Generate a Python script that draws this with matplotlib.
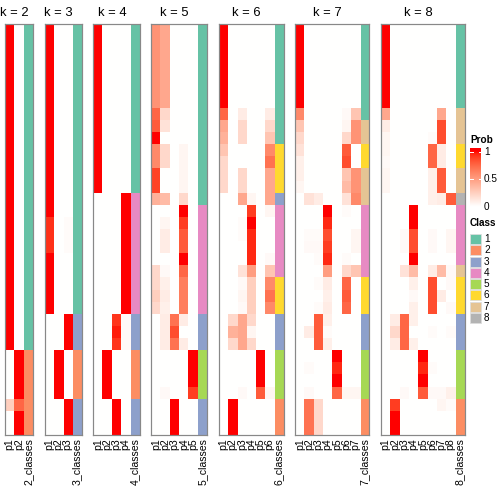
import matplotlib.pyplot as plt
import numpy as np
from matplotlib.colors import ListedColormap, to_rgba
from matplotlib.patches import Rectangle

plt.rcParams['font.family'] = ['Liberation Sans', 'DejaVu Sans']

# class colours for classes 1..8
class_colors = ['#66C2A5', '#FC8D62', '#8DA0CB', '#E78AC3',
                '#A6D854', '#FFD92F', '#E5C494', '#B3B3B3']

# membership probabilities (rows = samples, cols = p1..pk) and class labels
prob_k2 = [[1, 0]] * 27 + [[0, 1]] * 4 + [[0.25, 0.75]] + [[0, 1]] * 2
class_k2 = [1] * 27 + [2] * 7

prob_k3 = ([[1, 0, 0]] * 16 + [[0.93, 0, 0.02]] * 3 + [[1, 0, 0]] * 5
           + [[0, 0, 1]] * 3 + [[0, 1, 0]] * 4 + [[0, 0, 1]] * 3)
class_k3 = [1] * 24 + [3] * 3 + [2] * 4 + [3] * 3

prob_k4 = ([[1, 0, 0, 0]] * 14 + [[0, 0, 0, 1]] * 10
           + [[0, 0, 0.92, 0.03], [0, 0, 0.97, 0.03], [0, 0, 0.92, 0.03]]
           + [[0, 1, 0, 0]] * 4 + [[0, 0, 1, 0]] * 3)
class_k4 = [1] * 14 + [4] * 10 + [3] * 3 + [2] * 4 + [3] * 3

prob_k5 = ([[0.55, 0.45, 0, 0, 0]] * 7 + [
    [0.75, 0.2, 0, 0, 0],
    [0.8, 0.15, 0, 0, 0],
    [1, 0, 0, 0, 0],
    [0.6, 0.2, 0, 0.05, 0],
    [0.6, 0.2, 0, 0.05, 0],
    [0.88, 0, 0, 0.05, 0],
    [0.88, 0, 0, 0.05, 0],
    [0.4, 0.35, 0, 0.2, 0],
    [0, 0, 0, 1, 0],
    [0, 0.05, 0, 0.9, 0],
    [0, 0.1, 0, 0.8, 0],
    [0, 0.1, 0, 0.8, 0],
    [0, 0, 0, 1, 0],
    [0.2, 0.03, 0, 0.75, 0],
    [0.2, 0.08, 0, 0.65, 0],
    [0.25, 0.1, 0, 0.65, 0],
    [0.2, 0.08, 0, 0.65, 0],
    [0, 0.1, 0.7, 0.1, 0],
    [0, 0.1, 0.85, 0, 0],
    [0, 0.1, 0.7, 0.1, 0],
    [0, 0, 0, 0, 1],
    [0, 0, 0, 0, 1],
    [0, 0, 0, 0, 1],
    [0, 0.03, 0, 0, 0.9]] + [[0, 0, 1, 0, 0]] * 3)
class_k5 = [1] * 15 + [4] * 9 + [3] * 3 + [5] * 4 + [3] * 3

prob_k6 = ([[1, 0, 0, 0, 0, 0]] * 7 + [
    [0.75, 0, 0.1, 0, 0, 0.1],
    [0.45, 0, 0.2, 0, 0, 0.2],
    [0.4, 0, 0.2, 0, 0, 0.3],
    [0.3, 0, 0, 0, 0, 0.6],
    [0.2, 0, 0, 0, 0, 0.7],
    [0.2, 0, 0.2, 0, 0, 0.45],
    [0.2, 0, 0.2, 0, 0, 0.45],
    [0, 0, 0.45, 0.05, 0, 0.45],
    [0, 0, 0, 0.9, 0, 0.05],
    [0, 0, 0.02, 1, 0, 0],
    [0, 0, 0.02, 0.95, 0, 0],
    [0, 0, 0, 0.95, 0, 0],
    [0, 0, 0, 0.95, 0, 0.03],
    [0, 0, 0.15, 0.5, 0, 0.3],
    [0, 0, 0.03, 0.25, 0, 0.6],
    [0, 0, 0.05, 0.25, 0, 0.7],
    [0, 0, 0.03, 0.25, 0, 0.6],
    [0, 0.2, 0.45, 0.2, 0, 0],
    [0, 0.4, 0.45, 0.05, 0, 0],
    [0, 0.2, 0.45, 0.2, 0, 0],
    [0, 0, 0, 0, 1, 0],
    [0, 0, 0, 0, 1, 0],
    [0, 0, 0, 0, 1, 0],
    [0, 0, 0.03, 0, 0.8, 0.05]] + [[0, 1, 0, 0, 0, 0]] * 3)
class_k6 = [1] * 10 + [6] * 4 + [3] + [4] * 6 + [6] * 3 + [3] * 3 + [5] * 4 + [2] * 3

prob_k7 = ([[1, 0, 0, 0, 0, 0, 0]] * 7 + [
    [0.6, 0, 0, 0, 0, 0.03, 0.3],
    [0.3, 0, 0, 0, 0, 0.05, 0.55],
    [0.2, 0, 0, 0, 0, 0.2, 0.55],
    [0.15, 0, 0, 0, 0, 0.8, 0],
    [0.08, 0, 0, 0, 0, 0.85, 0],
    [0.08, 0, 0, 0, 0, 0.3, 0.55],
    [0.05, 0, 0, 0, 0, 0.35, 0.55],
    [0, 0.15, 0.1, 0, 0, 0.15, 0.6],
    [0, 0, 0, 1, 0, 0.02, 0],
    [0, 0, 0, 0.95, 0, 0, 0],
    [0, 0.02, 0.02, 0.85, 0, 0, 0.05],
    [0, 0.03, 0.03, 0.9, 0, 0, 0.05],
    [0, 0, 0.02, 0.95, 0, 0.02, 0],
    [0, 0, 0, 0.5, 0, 0.2, 0.3],
    [0, 0, 0.02, 0.1, 0, 0.75, 0],
    [0, 0, 0, 0.08, 0, 0.8, 0],
    [0, 0, 0.02, 0.1, 0, 0.75, 0],
    [0, 0, 0.8, 0.08, 0, 0, 0],
    [0, 0.1, 0.8, 0.02, 0, 0, 0],
    [0, 0, 0.8, 0.08, 0, 0, 0],
    [0, 0, 0, 0, 1, 0, 0],
    [0, 0.02, 0, 0, 0.95, 0, 0],
    [0, 0, 0, 0, 1, 0, 0],
    [0, 0.03, 0, 0, 0.75, 0.05, 0.05]] + [[0, 0.7, 0.2, 0, 0, 0, 0]] * 3)
class_k7 = [1] * 8 + [7] * 2 + [6] * 2 + [7] * 3 + [4] * 6 + [6] * 3 + [3] * 3 + [5] * 4 + [2] * 3

prob_k8 = ([[1, 0, 0, 0, 0, 0, 0, 0]] * 7 + [
    [0.45, 0, 0, 0, 0, 0, 0.45, 0],
    [0.1, 0, 0, 0, 0, 0, 0.85, 0],
    [0.05, 0, 0, 0, 0, 0.02, 0.85, 0],
    [0.05, 0, 0, 0, 0, 0.75, 0.1, 0],
    [0.03, 0, 0, 0, 0, 0.75, 0.1, 0],
    [0.05, 0, 0, 0, 0, 0.08, 0.8, 0],
    [0.05, 0, 0, 0, 0, 0.08, 0.8, 0],
    [0, 0, 0, 0, 0, 0.08, 0.1, 0.8],
    [0, 0, 0, 1, 0, 0, 0, 0],
    [0, 0, 0, 1, 0, 0, 0, 0],
    [0, 0, 0.03, 0.85, 0, 0.03, 0, 0.05],
    [0, 0, 0.03, 0.85, 0, 0.03, 0, 0.05],
    [0, 0, 0, 1, 0, 0, 0, 0],
    [0, 0, 0.15, 0.35, 0, 0.1, 0.35, 0.03],
    [0, 0, 0, 0.08, 0, 0.85, 0, 0.03],
    [0, 0, 0, 0.03, 0, 0.85, 0.1, 0],
    [0, 0, 0, 0.08, 0, 0.85, 0, 0.03],
    [0, 0.1, 0.75, 0.08, 0, 0, 0, 0],
    [0, 0.2, 0.75, 0, 0, 0.02, 0, 0.02],
    [0, 0.1, 0.75, 0.08, 0, 0, 0, 0],
    [0, 0, 0, 0, 1, 0, 0, 0],
    [0, 0, 0, 0, 0.95, 0.02, 0, 0],
    [0, 0, 0, 0, 1, 0, 0, 0],
    [0, 0, 0.03, 0, 0.8, 0.03, 0.03, 0.08],
    [0, 0.9, 0, 0, 0, 0, 0.05, 0.02]] + [[0, 1, 0, 0, 0, 0, 0, 0]] * 2)
class_k8 = [1] * 7 + [7] * 3 + [6] * 2 + [7] * 2 + [8] + [4] * 5 + [7] + [6] * 3 + [3] * 3 + [5] * 4 + [2] * 3

panels = [(2, prob_k2, class_k2), (3, prob_k3, class_k3), (4, prob_k4, class_k4),
          (5, prob_k5, class_k5), (6, prob_k6, class_k6), (7, prob_k7, class_k7),
          (8, prob_k8, class_k8)]


# white -> red colour ramp interpolated in LAB space
def lab_to_rgb(lab):
    L, a, b = lab[:, 0], lab[:, 1], lab[:, 2]
    fy = (L + 16) / 116
    fx = fy + a / 500
    fz = fy - b / 200
    finv = lambda t: np.where(t > 6 / 29, t ** 3, 3 * (6 / 29) ** 2 * (t - 4 / 29))
    xyz = np.stack([0.95047 * finv(fx), finv(fy), 1.08883 * finv(fz)], axis=1)
    M = np.array([[3.2406, -1.5372, -0.4986],
                  [-0.9689, 1.8758, 0.0415],
                  [0.0557, -0.2040, 1.0570]])
    rgb = xyz @ M.T
    rgb = np.where(rgb <= 0.0031308, 12.92 * rgb, 1.055 * np.clip(rgb, 0, None) ** (1 / 2.4) - 0.055)
    return np.clip(rgb, 0, 1)


t = np.linspace(0, 1, 256)[:, None]
lab = (1 - t) * np.array([100, 0, 0]) + t * np.array([53.24, 80.09, 67.20])
cmap = ListedColormap(lab_to_rgb(lab))

fig = plt.figure(figsize=(7, 7), dpi=72)
W = H = 504.0
col_w = 9.27
gap = 11.7
top, bottom = 23.5, 435.0

x = 5.0
for k, probs, classes in panels:
    ncol = k + 1
    w = ncol * col_w
    ax = fig.add_axes([x / W, 1 - bottom / H, w / W, (bottom - top) / H])
    p = np.array(probs, dtype=float)
    img = np.zeros((len(classes), ncol, 4))
    img[:, :k] = cmap(p)
    img[:, k] = [to_rgba(class_colors[c - 1]) for c in classes]
    ax.imshow(img, aspect='auto', interpolation='nearest')
    ax.set_xticks(range(ncol))
    ax.set_xticklabels([f'p{i + 1}' for i in range(k)] + [f'{k}_classes'],
                       rotation=90, fontsize=10.5)
    ax.tick_params(length=0, pad=3)
    ax.set_yticks([])
    for s in ax.spines.values():
        s.set_color('#888888')
        s.set_linewidth(1.2)
    fig.text((x + k * col_w / 2) / W, 1 - 15.5 / H, f'k = {k}',
             ha='center', va='baseline', fontsize=13)
    x += w + gap

# legends drawn in pixel coordinates
lg = fig.add_axes([0, 0, 1, 1])
lg.set_xlim(0, W)
lg.set_ylim(H, 0)
lg.axis('off')

lg.text(470, 140, 'Prob', fontsize=10, fontweight='bold', va='center')
ys = np.linspace(148.5, 207, 120)
vals = np.clip((206.7 - ys) / 55.0, 0, 1)
lg.imshow(cmap(vals)[:, None, :], extent=(470, 481, 207, 148.5),
          aspect='auto', interpolation='bilinear')
for v in [1, 0.5, 0]:
    yv = 206.7 - 55.0 * v
    lg.text(484, yv, f'{v:g}', fontsize=10, va='center')
    if v > 0:
        lg.plot([470, 472.5], [yv, yv], color='white', lw=1)
        lg.plot([478.5, 481], [yv, yv], color='white', lw=1)

lg.text(470, 223.5, 'Class', fontsize=10, fontweight='bold', va='center')
for i, c in enumerate(class_colors):
    y0 = 234 + i * 11.27
    lg.add_patch(Rectangle((470, y0), 11, 10, facecolor=c, edgecolor='#dddddd', lw=0.8))
    lg.text(484, y0 + 5, str(i + 1), fontsize=10, va='center')
lg.set_xlim(0, W)
lg.set_ylim(H, 0)

fig.savefig('out.png', dpi=72)
